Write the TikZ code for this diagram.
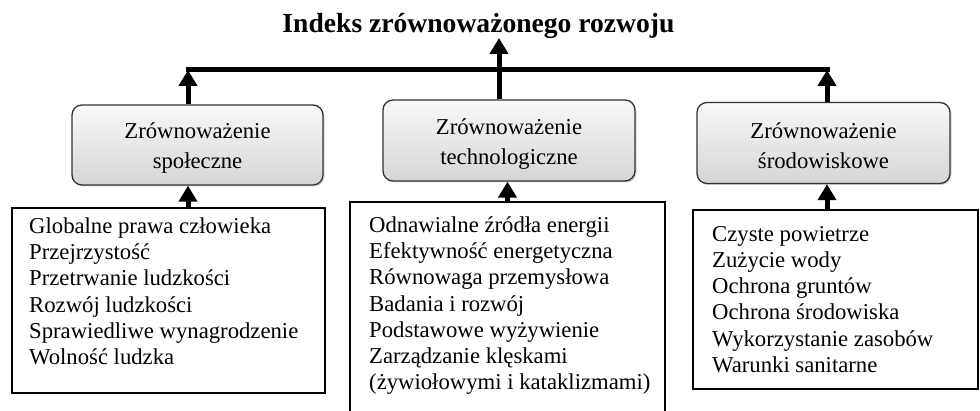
\documentclass[tikz,border=0pt]{standalone}
\usepackage{fontspec}
\setmainfont{Liberation Serif}
\usetikzlibrary{arrows.meta,shadows}

\begin{document}
\begin{tikzpicture}[x=1pt,y=-1pt,
    pillar/.style={draw=black!80,line width=1.3pt,rounded corners=10pt,
      top color=gray!5,bottom color=gray!33,
      drop shadow={shadow xshift=1.5pt,shadow yshift=-1.5pt,opacity=0.35},
      align=center,inner sep=0pt,font=\fontsize{22.7}{30}\selectfont},
    listbox/.style={draw,line width=2pt,inner sep=0pt},
    items/.style={anchor=north west,inner sep=0pt,align=left,
      font=\fontsize{22.7}{26.2}\selectfont},
    up/.style={line width=5pt,-{Triangle[width=18pt,length=16pt]}},
    bar/.style={line width=5pt,shorten <=-2.5pt,shorten >=-2.5pt}]

    \useasboundingbox (0,0) rectangle (980,411);

    \node[anchor=base,font=\fontsize{27.6}{30}\selectfont\bfseries] (title) at (478.5,33)
    {Indeks zrównoważonego rozwoju};

    % three pillars
    \node[pillar,minimum width=251pt,minimum height=80pt] (social) at (197.5,145)
    {\rule{0pt}{22pt}Zrównoważenie\\społeczne};
    \node[pillar,minimum width=252pt,minimum height=81pt] (tech) at (509,140.5)
    {\rule{0pt}{22pt}Zrównoważenie\\technologiczne};
    \node[pillar,minimum width=253pt,minimum height=81pt] (env) at (823.5,143)
    {\rule{0pt}{22pt}Zrównoważenie\\środowiskowe};

    % indicator lists
    \node[listbox,minimum width=313pt,minimum height=185pt] (sociallist) at (168.5,300.5) {};
    \node[listbox,minimum width=315pt,minimum height=238pt] (techlist) at (507.5,321) {};
    \node[listbox,minimum width=285pt,minimum height=179pt] (envlist) at (835.5,299.5) {};

    \node[items,at=(sociallist.north west),xshift=18pt,yshift=-10.5pt] (socialitems)
    {Globalne prawa człowieka\\Przejrzystość\\Przetrwanie ludzkości\\Rozwój ludzkości\\
     Sprawiedliwe wynagrodzenie\\Wolność ludzka};
    \node[items,at=(techlist.north west),xshift=20pt,yshift=-15.5pt] (techitems)
    {Odnawialne źródła energii\\Efektywność energetyczna\\Równowaga przemysłowa\\
     Badania i rozwój\\Podstawowe wyżywienie\\Zarządzanie klęskami\\
     (żywiołowymi i kataklizmami)};
    \node[items,at=(envlist.north west),xshift=20pt,yshift=-17pt] (envitems)
    {Czyste powietrze\\Zużycie wody\\Ochrona gruntów\\Ochrona środowiska\\
     Wykorzystanie zasobów\\Warunki sanitarne};

    \coordinate (jl) at (188,70);
    \coordinate (jr) at (827,70);
    \coordinate (apex) at (499,38);

    \draw[bar] (jl) -- (jr);
    \draw[up] (social.north -| jl) -- (jl);
    \draw[up] (env.north -| jr) -- (jr);
    \draw[up] (tech.north -| apex) -- (apex);

    \draw[up] (sociallist.north -| jl) -- (social.south -| jl);
    \draw[up] (techlist.north) -- (techlist.north |- tech.south);
    \draw[up] (envlist.north -| jr) -- (env.south -| jr);
\end{tikzpicture}
\end{document}
